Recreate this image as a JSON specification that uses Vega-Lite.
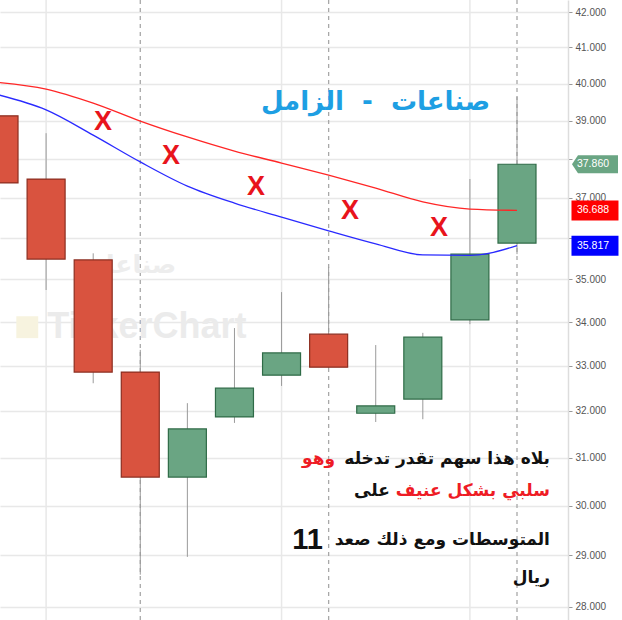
{
  "$schema": "https://vega.github.io/schema/vega-lite/v6.json",
  "width": 568,
  "height": 620,
  "autosize": {"type": "none"},
  "padding": {"left": 0, "top": 0, "right": 54, "bottom": 0},
  "background": "white",
  "config": {"view": {"stroke": null}},
  "datasets": {
    "candles": [
      {"i": 0, "open": 39.13, "high": 39.6, "low": 37.0, "close": 37.38, "dir": "down"},
      {"i": 1, "open": 37.48, "high": 38.67, "low": 34.75, "close": 35.49, "dir": "down"},
      {"i": 2, "open": 35.47, "high": 35.63, "low": 32.61, "close": 32.86, "dir": "down"},
      {"i": 3, "open": 32.86, "high": 33.36, "low": 28.62, "close": 30.59, "dir": "down"},
      {"i": 4, "open": 30.59, "high": 32.17, "low": 28.97, "close": 31.61, "dir": "up"},
      {"i": 5, "open": 31.87, "high": 33.86, "low": 31.74, "close": 32.5, "dir": "up"},
      {"i": 6, "open": 32.79, "high": 34.7, "low": 32.55, "close": 33.29, "dir": "up"},
      {"i": 7, "open": 33.72, "high": 35.3, "low": 32.95, "close": 32.97, "dir": "down"},
      {"i": 8, "open": 31.95, "high": 33.47, "low": 31.76, "close": 32.11, "dir": "up"},
      {"i": 9, "open": 32.26, "high": 33.75, "low": 31.82, "close": 33.65, "dir": "up"},
      {"i": 10, "open": 34.05, "high": 37.48, "low": 33.95, "close": 35.61, "dir": "up"},
      {"i": 11, "open": 35.88, "high": 39.64, "low": 35.61, "close": 37.86, "dir": "up"}
    ],
    "ma": [
      {"i": 0, "ma": "red", "v": 40.03}, {"i": 1, "ma": "red", "v": 39.85}, {"i": 2, "ma": "red", "v": 39.47},
      {"i": 3, "ma": "red", "v": 38.99}, {"i": 4, "ma": "red", "v": 38.57}, {"i": 5, "ma": "red", "v": 38.2},
      {"i": 6, "ma": "red", "v": 37.89}, {"i": 7, "ma": "red", "v": 37.58}, {"i": 8, "ma": "red", "v": 37.25},
      {"i": 9, "ma": "red", "v": 36.9}, {"i": 10, "ma": "red", "v": 36.72}, {"i": 11, "ma": "red", "v": 36.688},
      {"i": 0, "ma": "blue", "v": 39.69}, {"i": 1, "ma": "blue", "v": 39.29}, {"i": 2, "ma": "blue", "v": 38.62},
      {"i": 3, "ma": "blue", "v": 37.92}, {"i": 4, "ma": "blue", "v": 37.3}, {"i": 5, "ma": "blue", "v": 36.87},
      {"i": 6, "ma": "blue", "v": 36.52}, {"i": 7, "ma": "blue", "v": 36.18}, {"i": 8, "ma": "blue", "v": 35.86},
      {"i": 9, "ma": "blue", "v": 35.59}, {"i": 10, "ma": "blue", "v": 35.58}, {"i": 11, "ma": "blue", "v": 35.817}
    ],
    "xmarks": [
      {"i": 2.208, "v": 38.97}, {"i": 3.652, "v": 38.07}, {"i": 5.457, "v": 37.28},
      {"i": 7.454, "v": 36.67}, {"i": 9.344, "v": 36.25}
    ]
  },
  "encoding": {
    "x": {"field": "i", "type": "quantitative", "scale": {"domain": [0.021, 12.083], "nice": false, "zero": false, "padding": 0}, "axis": null}
  },
  "layer": [
    {
      "data": {"values": [{"i": 1}, {"i": 6}, {"i": 10}]},
      "mark": {"type": "rule", "color": "#e8e8e8", "strokeWidth": 1.5},
      "encoding": {}
    },
    {
      "data": {"values": [{"i": 3}, {"i": 7}, {"i": 11}]},
      "mark": {"type": "rule", "color": "#a8a8a8", "strokeWidth": 1.3, "strokeDash": [4, 4]},
      "encoding": {}
    },
    {
      "data": {"values": [{"i": 2.75, "v": 35.35, "t": "صناعات"}]},
      "mark": {"type": "text", "font": "DejaVu Sans", "fontSize": 25, "fontWeight": "bold", "color": "#ededed", "align": "center", "baseline": "middle"},
      "encoding": {"y": {"field": "v", "type": "quantitative"}, "text": {"field": "t"}}
    },
    {
      "data": {"values": [{"i": 0.6, "v": 33.88}]},
      "mark": {"type": "point", "shape": "square", "size": 480, "filled": true, "color": "#f7f3df", "opacity": 1},
      "encoding": {"y": {"field": "v", "type": "quantitative"}}
    },
    {
      "data": {"values": [{"i": 3.14, "v": 33.88, "t": "TickerChart"}]},
      "mark": {"type": "text", "font": "Liberation Sans", "fontSize": 36, "fontWeight": "bold", "color": "#ebebeb", "align": "center", "baseline": "middle"},
      "encoding": {"y": {"field": "v", "type": "quantitative"}, "text": {"field": "t"}}
    },
    {
      "data": {"name": "candles"},
      "mark": {"type": "rule", "color": "#9a9a9a", "strokeWidth": 1, "clip": true},
      "encoding": {
        "y": {
          "field": "low", "type": "quantitative",
          "scale": {"type": "log", "domain": [27.75, 42.345], "nice": false, "zero": false, "padding": 0},
          "axis": {
            "orient": "right", "title": null, "values": [28, 29, 30, 31, 32, 33, 34, 35, 36, 37, 38, 39, 40, 41, 42],
            "format": ".3f", "labelExpr": "datum.value == 38 || datum.value == 36 ? '' : datum.label",
            "labelFont": "Liberation Sans", "labelFontSize": 10, "labelColor": "#555555",
            "domainColor": "#dddddd", "domainWidth": 1.5, "tickColor": "#999999", "tickSize": 4, "labelPadding": 3,
            "grid": true, "gridColor": "#e8e8e8", "gridWidth": 1.5, "labelFlush": false, "labelOverlap": false
          }
        },
        "y2": {"field": "high"}
      }
    },
    {
      "data": {"name": "candles"},
      "transform": [{"filter": "datum.dir === 'down'"}],
      "mark": {"type": "bar", "orient": "vertical", "size": 38, "strokeWidth": 1.2, "clip": true, "fill": "#d9533f", "stroke": "#8c2e20"},
      "encoding": {
        "y": {"field": "open", "type": "quantitative"},
        "y2": {"field": "close"}
      }
    },
    {
      "data": {"name": "candles"},
      "transform": [{"filter": "datum.dir === 'up'"}],
      "mark": {"type": "bar", "orient": "vertical", "size": 38, "strokeWidth": 1.2, "clip": true, "fill": "#6aa583", "stroke": "#2f6b47"},
      "encoding": {
        "y": {"field": "open", "type": "quantitative"},
        "y2": {"field": "close"}
      }
    },
    {
      "data": {"name": "ma"},
      "transform": [{"filter": "datum.ma === 'red'"}],
      "mark": {"type": "line", "strokeWidth": 1.3, "clip": true, "interpolate": "monotone", "color": "#ff2626"},
      "encoding": {"y": {"field": "v", "type": "quantitative"}}
    },
    {
      "data": {"name": "ma"},
      "transform": [{"filter": "datum.ma === 'blue'"}],
      "mark": {"type": "line", "strokeWidth": 1.3, "clip": true, "interpolate": "monotone", "color": "#2a2aff"},
      "encoding": {"y": {"field": "v", "type": "quantitative"}}
    },
    {
      "data": {"name": "xmarks"},
      "mark": {"type": "text", "text": "X", "font": "Liberation Sans", "fontSize": 27, "fontWeight": "bold", "color": "#e8141c", "align": "center", "baseline": "middle"},
      "encoding": {"y": {"field": "v", "type": "quantitative"}}
    },
    {
      "data": {"values": [{"i": 7.995, "v": 39.5, "t": "صناعات\u00a0\u00a0-\u00a0\u00a0الزامل"}]},
      "mark": {"type": "text", "font": "DejaVu Sans", "fontSize": 26, "fontWeight": "bold", "color": "#1e9fe3", "align": "center", "baseline": "middle"},
      "encoding": {"y": {"field": "v", "type": "quantitative"}, "text": {"field": "t"}}
    },
    {
      "data": {"values": [
        {"i": 11.7, "v": 30.97, "t": "بلاه هذا سهم تقدر تدخله"},
        {"i": 8.3, "v": 30.3, "t": "على"},
        {"i": 11.7, "v": 29.3, "t": "المتوسطات ومع ذلك صعد"},
        {"i": 11.7, "v": 28.56, "t": "ريال"}
      ]},
      "mark": {"type": "text", "font": "DejaVu Sans", "fontSize": 17, "fontWeight": "bold", "color": "#111111", "align": "right", "baseline": "middle"},
      "encoding": {"y": {"field": "v", "type": "quantitative"}, "text": {"field": "t"}}
    },
    {
      "data": {"values": [
        {"i": 7.135, "v": 30.97, "t": "وهو"},
        {"i": 11.7, "v": 30.3, "t": "سلبي بشكل عنيف"}
      ]},
      "mark": {"type": "text", "font": "DejaVu Sans", "fontSize": 17, "fontWeight": "bold", "color": "#ee1c25", "align": "right", "baseline": "middle"},
      "encoding": {"y": {"field": "v", "type": "quantitative"}, "text": {"field": "t"}}
    },
    {
      "data": {"values": [{"i": 6.88, "v": 29.3, "t": "11"}]},
      "mark": {"type": "text", "font": "Liberation Sans", "fontSize": 29, "fontWeight": "bold", "color": "#111111", "align": "right", "baseline": "middle"},
      "encoding": {"y": {"field": "v", "type": "quantitative"}, "text": {"field": "t"}}
    },
    {
      "data": {"values": [{"i": 12.656, "v": 37.86}]},
      "mark": {"type": "point", "shape": "M-0.979,0 L-0.723,-0.383 L0.979,-0.383 L0.979,0.383 L-0.723,0.383 Z", "size": 2209, "filled": true, "color": "#6aa583", "opacity": 1, "strokeWidth": 0, "clip": false},
      "encoding": {"y": {"field": "v", "type": "quantitative"}}
    },
    {
      "data": {"values": [{"i": 12.656, "v": 36.688}]},
      "mark": {"type": "point", "shape": "M-1,-0.4255 L1,-0.4255 L1,0.4255 L-1,0.4255 Z", "size": 2209, "filled": true, "color": "#ff0000", "opacity": 1, "strokeWidth": 0, "clip": false},
      "encoding": {"y": {"field": "v", "type": "quantitative"}}
    },
    {
      "data": {"values": [{"i": 12.656, "v": 35.817}]},
      "mark": {"type": "point", "shape": "M-1,-0.4255 L1,-0.4255 L1,0.4255 L-1,0.4255 Z", "size": 2209, "filled": true, "color": "#0000ff", "opacity": 1, "strokeWidth": 0, "clip": false},
      "encoding": {"y": {"field": "v", "type": "quantitative"}}
    },
    {
      "data": {"values": [{"i": 12.614, "v": 37.86, "label": "37.860"}, {"i": 12.614, "v": 36.688, "label": "36.688"}, {"i": 12.614, "v": 35.817, "label": "35.817"}]},
      "mark": {"type": "text", "font": "Liberation Sans", "fontSize": 10.5, "color": "white", "align": "center", "baseline": "middle", "clip": false},
      "encoding": {
        "y": {"field": "v", "type": "quantitative"},
        "text": {"field": "label", "type": "nominal"}
      }
    }
  ]
}
